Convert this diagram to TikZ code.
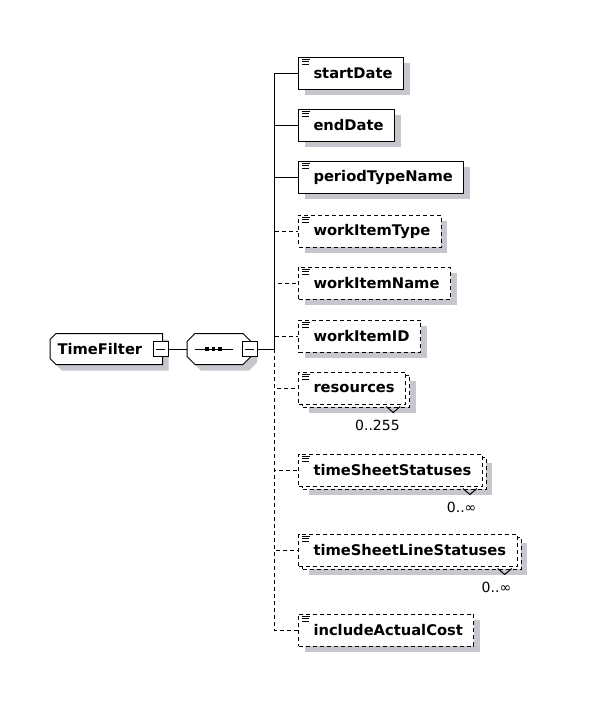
\documentclass[tikz,border=0pt]{standalone}
\usepackage{fontspec}
\setmainfont{DejaVu Sans}
\usetikzlibrary{shadows,backgrounds}
\definecolor{shade}{RGB}{198,198,204}

\begin{document}
\begin{tikzpicture}[x=1pt,y=-1pt,line width=1pt,
  boxfont/.style={font=\fontsize{14.7}{17}\selectfont\bfseries},
  optline/.style={dash pattern=on 4pt off 3pt},
  grayshadow/.style={drop shadow={shadow xshift=6pt,shadow yshift=-6pt,fill=shade,opacity=1}},
  elem/.style={draw,fill=white,boxfont,anchor=west,minimum height=32pt,inner sep=0pt,
    execute at begin node={\hspace*{15pt}},execute at end node={\hspace*{11pt}},
    path picture={\draw[solid,line width=0.9pt]
      ([xshift=3.5pt,yshift=-2.5pt]path picture bounding box.north west) -- ++(8,0)
      ([xshift=3.5pt,yshift=-4.8pt]path picture bounding box.north west) -- ++(7,0)
      ([xshift=3.5pt,yshift=-7.1pt]path picture bounding box.north west) -- ++(7,0);}},
  single/.style={elem,grayshadow},
  opt/.style={single,optline},
  multi/.style={elem,optline,
    drop shadow={shadow xshift=10pt,shadow yshift=-9pt,fill=shade,opacity=1},
    copy shadow={shadow xshift=4pt,shadow yshift=-3pt,draw=black,fill=white,line width=1pt,optline}},
  card/.style={font=\fontsize{14}{16}\selectfont,inner sep=0pt,anchor=north east},
  collapse/.style={draw,fill=white,minimum size=15pt,inner sep=0pt,
    path picture={\draw ([xshift=3pt]path picture bounding box.west) -- ([xshift=-3pt]path picture bounding box.east);}},
  compos/.style={minimum height=30pt,inner xsep=7pt,inner ysep=0pt,anchor=west},
  outline/.style={draw=black,fill=white,line width=1pt,grayshadow}]
  \useasboundingbox (0,0) rectangle (610,705);

  % root element and sequence
  \node[compos,boxfont] (timefilter) at (50,349) {TimeFilter\hspace*{13pt}};
  \node[compos,minimum width=63pt] (seq) at (187,349) {};
  \begin{scope}[on background layer]
    \path[outline] ([shift={(6,0)}]timefilter.north west) -- (timefilter.north east)
      -- (timefilter.south east) -- ([shift={(6,0)}]timefilter.south west)
      -- ([shift={(0,-6)}]timefilter.south west) -- ([shift={(0,6)}]timefilter.north west) -- cycle;
    \path[outline] ([shift={(8,0)}]seq.north west) -- ([shift={(-8,0)}]seq.north east)
      -- ([shift={(0,8)}]seq.north east) -- ([shift={(0,-8)}]seq.south east)
      -- ([shift={(-8,0)}]seq.south east) -- ([shift={(8,0)}]seq.south west)
      -- ([shift={(0,-8)}]seq.south west) -- ([shift={(0,8)}]seq.north west) -- cycle;
  \end{scope}
  \node[collapse] (tfcollapse) at (160.5,349) {};
  \node[collapse] (seqcollapse) at (249.5,349) {};
  \draw ([xshift=8pt]seq.west) -- ([xshift=46pt]seq.west);
  \foreach \d in {20,26.5,33}
    \fill ([xshift=\d pt]seq.west) +(-1.8,-1.8) rectangle +(1.8,1.8);
  \draw (tfcollapse) -- (seq);
  \coordinate (trunk) at (274,349);
  \draw (seqcollapse.east) -- (trunk);

  % required children
  \foreach \name/\y in {startDate/73,endDate/125,periodTypeName/177} {
    \node[single] (\name) at (298,\y) {\name};
    \draw (trunk) |- (\name.west);
  }
  % optional children
  \foreach \name/\y in {workItemType/231,workItemName/283,workItemID/336,includeActualCost/630} {
    \node[opt] (\name) at (298,\y) {\name};
    \draw[optline] (trunk) |- (\name.west);
  }
  % repeated children
  \foreach \name/\y/\card in {resources/388/0..255,timeSheetStatuses/470/0..∞,timeSheetLineStatuses/550/0..∞} {
    \node[multi] (\name) at (298,\y) {\name};
    \draw[optline] (trunk) |- (\name.west);
    \draw ([shift={(-20pt,-2pt)}]\name.south east) -- ++(7,6) -- ++(7,-6);
    \node[card] (\name-card) at ([shift={(-6pt,-15pt)}]\name.south east) {\card};
  }
\end{tikzpicture}
\end{document}
